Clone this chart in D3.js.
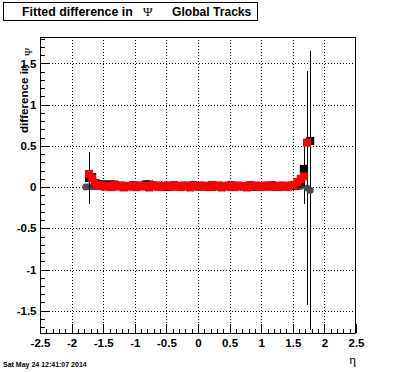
<!DOCTYPE html>
<html><head><meta charset="utf-8">
<script src="https://cdn.jsdelivr.net/npm/d3@7"></script>
<style>html,body{margin:0;padding:0;background:#fff;} svg{display:block;}</style>
</head><body>
<script>
// ---- data ----
const eta = [-1.775,-1.725,-1.675,-1.625,-1.575,-1.525,-1.475,-1.425,-1.375,-1.325,
-1.275,-1.225,-1.175,-1.125,-1.075,-1.025,-0.975,-0.925,-0.875,-0.825,
-0.775,-0.725,-0.675,-0.625,-0.575,-0.525,-0.475,-0.425,-0.375,-0.325,
-0.275,-0.225,-0.175,-0.125,-0.075,-0.025,0.025,0.075,0.125,0.175,
0.225,0.275,0.325,0.375,0.425,0.475,0.525,0.575,0.625,0.675,
0.725,0.775,0.825,0.875,0.925,0.975,1.025,1.075,1.125,1.175,
1.225,1.275,1.325,1.375,1.425,1.475,1.525,1.575,1.625,1.675,
1.725,1.775];

// dark circle series (mostly hidden under the others)
const circVal = [0.0,0.005,0.005,0.005,0.005,0.005,0.005,0.005,0.005,0.005,
0.005,0.005,0.005,0.005,0.005,0.005,0.005,0.005,0.005,0.005,
0.005,0.005,0.005,0.005,0.005,0.005,0.005,0.005,0.005,0.005,
0.005,0.005,0.005,0.005,0.005,0.005,0.005,0.005,0.005,0.005,
0.005,0.005,0.005,0.005,0.005,0.005,0.005,0.005,0.005,0.005,
0.005,0.005,0.005,0.005,0.005,0.005,0.005,0.005,0.005,0.005,
0.005,0.005,0.005,0.005,0.005,0.005,0.005,0.005,0.01,0.145,
-0.01,-0.04];
const circErr = [0.02,0.02,0.02,0.02,0.02,0.02,0.02,0.02,0.02,0.02,
0.02,0.02,0.02,0.02,0.02,0.02,0.02,0.02,0.02,0.02,
0.02,0.02,0.02,0.02,0.02,0.02,0.02,0.02,0.02,0.02,
0.02,0.02,0.02,0.02,0.02,0.02,0.02,0.02,0.02,0.02,
0.02,0.02,0.02,0.02,0.02,0.02,0.02,0.02,0.02,0.02,
0.02,0.02,0.02,0.02,0.02,0.02,0.02,0.02,0.02,0.02,
0.02,0.02,0.02,0.02,0.02,0.02,0.02,0.02,0.02,0.35,
1.42,1.69];

const blackVal = [null,0.11,0.12,0.05,0.035,0.03,0.03,0.03,0.03,0.03,
0.01,0.015,0.005,0.01,0.012,0.008,0.01,0.015,0.01,0.032,
0.032,0.01,0.012,0.008,0.01,0.015,0.005,0.01,0.012,0.01,
0.008,0.01,0.015,0.005,0.01,0.012,0.008,0.01,0.015,0.01,
0.005,0.01,0.012,0.008,0.01,0.015,0.005,0.01,0.012,0.01,
0.008,0.01,0.015,0.005,0.01,0.012,0.008,0.01,0.015,0.01,
0.005,0.01,0.012,0.008,0.01,0.015,0.02,0.04,0.06,0.22,
null,0.56];
const blackErr = [null,0.31,0.02,0.02,0.02,0.02,0.02,0.02,0.02,0.02,
0.02,0.02,0.02,0.02,0.02,0.02,0.02,0.02,0.02,0.02,
0.02,0.02,0.02,0.02,0.02,0.02,0.02,0.02,0.02,0.02,
0.02,0.02,0.02,0.02,0.02,0.02,0.02,0.02,0.02,0.02,
0.02,0.02,0.02,0.02,0.02,0.02,0.02,0.02,0.02,0.02,
0.02,0.02,0.02,0.02,0.02,0.02,0.02,0.02,0.02,0.02,
0.02,0.02,0.02,0.02,0.02,0.02,0.02,0.02,0.02,0.03,
null,0.03];

const redVal = [null,0.16,0.105,0.045,0.025,
0.02,0.005,0.015,0.0,0.025,0.01,0.02,-0.005,0.015,0.01,
0.025,0.0,0.02,0.01,0.015,-0.005,0.025,0.01,0.02,0.0,
0.015,0.02,0.005,0.025,0.01,0.0,0.02,0.015,-0.005,0.025,
0.01,0.02,0.005,0.015,0.0,0.025,0.01,0.02,-0.005,0.015,
0.01,0.025,0.0,0.02,0.01,0.015,-0.005,0.025,0.01,0.02,
0.0,0.015,0.02,0.005,0.025,0.01,0.0,0.02,0.015,0.005,
0.02,0.025,
0.06,0.10,0.13,0.54,null];
const redErr = [null,0.02,0.02,0.02,0.02,0.02,0.02,0.02,0.02,0.02,
0.02,0.02,0.02,0.02,0.02,0.02,0.02,0.02,0.02,0.02,
0.02,0.02,0.02,0.02,0.02,0.02,0.02,0.02,0.02,0.02,
0.02,0.02,0.02,0.02,0.02,0.02,0.02,0.02,0.02,0.02,
0.02,0.02,0.02,0.02,0.02,0.02,0.02,0.02,0.02,0.02,
0.02,0.02,0.02,0.02,0.02,0.02,0.02,0.02,0.02,0.02,
0.02,0.02,0.02,0.02,0.02,0.02,0.02,0.02,0.02,0.02,
0.02,null];

const xTickLabels = [-2.5,-2,-1.5,-1,-0.5,0,0.5,1,1.5,2,2.5];
const yTickLabels = [-1.5,-1,-0.5,0,0.5,1,1.5];
const xDomain = [-2.5, 2.5];
const yDomain = [-1.77, 1.82];

// ---- drawing ----
const W = 396, H = 372;
const L = 40, R = 356, T = 37, B = 333;
const svg = d3.select("body").append("svg").attr("width", W).attr("height", H)
  .style("font-family", "'Liberation Sans', Arial, sans-serif");
svg.append("rect").attr("width", W).attr("height", H).attr("fill", "#fff");

const x = d3.scaleLinear().domain(xDomain).range([L, R]);
const y = d3.scaleLinear().domain(yDomain).range([B, T]);

// grid
const grid = svg.append("g").attr("stroke", "#000").attr("stroke-width", 1)
  .attr("stroke-dasharray", "1,2").attr("shape-rendering", "crispEdges");
xTickLabels.filter(v => v > xDomain[0] && v < xDomain[1]).forEach(v => {
  grid.append("line").attr("x1", Math.round(x(v)) + 0.5).attr("x2", Math.round(x(v)) + 0.5)
    .attr("y1", T).attr("y2", B);
});
yTickLabels.forEach(v => {
  grid.append("line").attr("y1", Math.round(y(v)) + 0.5).attr("y2", Math.round(y(v)) + 0.5)
    .attr("x1", L).attr("x2", R);
});

// axes
const fmt = d => String(d);
const xMinor = d3.range(-25, 26).map(k => k / 10);
const yMinor = d3.range(-17, 19).map(k => k / 10);

const gx = svg.append("g").attr("transform", `translate(0,${B})`);
gx.call(d3.axisBottom(x).tickValues(xMinor).tickSize(-4.5).tickFormat(""));
const gx2 = svg.append("g").attr("transform", `translate(0,${B})`);
gx2.call(d3.axisBottom(x).tickValues(xTickLabels).tickSize(-9).tickPadding(5.5).tickFormat(fmt));

const gy = svg.append("g").attr("transform", `translate(${L},0)`);
gy.call(d3.axisLeft(y).tickValues(yMinor).tickSize(-4.5).tickFormat(""));
const gy2 = svg.append("g").attr("transform", `translate(${L},0)`);
gy2.call(d3.axisLeft(y).tickValues(yTickLabels).tickSize(-9).tickPadding(3.5).tickFormat(fmt));

[gx, gx2, gy, gy2].forEach(g => {
  g.selectAll(".domain").remove();
  g.selectAll("line").attr("stroke", "#000").attr("shape-rendering", "crispEdges");
  g.selectAll("text").attr("fill", "#000").style("font-size", "11.5px")
    .style("font-weight", "bold").style("font-family", "'Liberation Sans', Arial, sans-serif");
});

// data series
function series(vals, errs, color, errColor, shape) {
  const g = svg.append("g");
  const pts = eta.map((e, i) => ({x: e, v: vals[i], err: errs[i]})).filter(d => d.v != null);
  g.selectAll("line.err").data(pts).join("line").attr("class", "err")
    .attr("x1", d => Math.round(x(d.x)) + 0.5).attr("x2", d => Math.round(x(d.x)) + 0.5)
    .attr("y1", d => y(d.v + d.err)).attr("y2", d => y(d.v - d.err))
    .attr("stroke", errColor).attr("stroke-width", 1).attr("shape-rendering", "crispEdges");
  if (shape === "circle") {
    g.selectAll("circle").data(pts).join("circle")
      .attr("cx", d => x(d.x)).attr("cy", d => y(d.v)).attr("r", 3.5).attr("fill", color);
  } else {
    g.selectAll("rect").data(pts).join("rect")
      .attr("x", d => x(d.x) - 4).attr("y", d => y(d.v) - 4)
      .attr("width", 8).attr("height", 8).attr("fill", color);
  }
}
series(circVal, circErr, "#4a4a4a", "#000", "circle");
series(blackVal, blackErr, "#000", "#000", "square");
series(redVal, redErr, "#ff0000", "#ff0000", "square");

// frame
svg.append("rect").attr("x", L + 0.5).attr("y", T + 0.5).attr("width", R - L - 1).attr("height", B - T)
  .attr("fill", "none").attr("stroke", "#000").attr("stroke-width", 1).attr("shape-rendering", "crispEdges");

// title box
svg.append("rect").attr("x", 3.5).attr("y", 2.5).attr("width", 254).attr("height", 18)
  .attr("fill", "#fff").attr("stroke", "#000").attr("stroke-width", 1).attr("shape-rendering", "crispEdges");
svg.append("text").attr("x", 22).attr("y", 15.5).style("font-size", "12.4px").style("font-weight", "bold")
  .text("Fitted difference in");
svg.append("text").attr("x", 143).attr("y", 15.5).style("font-size", "13px")
  .style("font-family", "'Liberation Serif', serif").text("Ψ");
svg.append("text").attr("x", 172).attr("y", 15.5).style("font-size", "12.1px").style("font-weight", "bold")
  .text("Global Tracks");

// y axis title
svg.append("text").attr("transform", "translate(28,133) rotate(-90)")
  .style("font-size", "11.6px").style("font-weight", "bold").text("difference in");
svg.append("text").attr("transform", "translate(32,56) rotate(-90)")
  .style("font-size", "11px").style("font-family", "'Liberation Serif', serif").text("Ψ");

// x axis title
svg.append("text").attr("x", 356).attr("y", 364).attr("text-anchor", "end")
  .style("font-size", "13px").style("font-family", "'Liberation Serif', serif").text("η");

// date stamp
svg.append("text").attr("x", 3).attr("y", 367).style("font-size", "7px").style("font-weight", "bold")
  .text("Sat May 24 12:41:07 2014");
</script>
</body></html>
